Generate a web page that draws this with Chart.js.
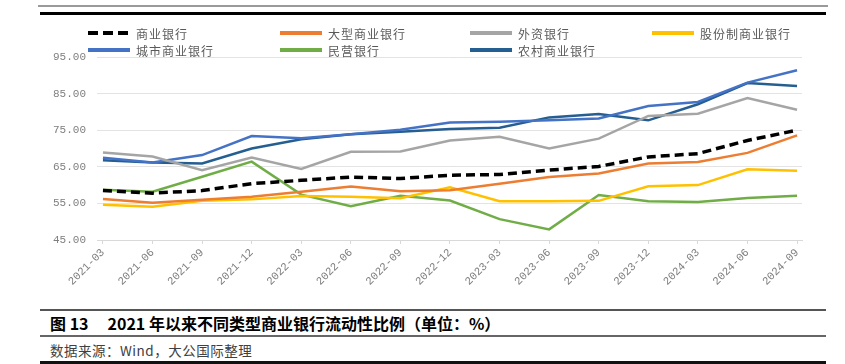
<!DOCTYPE html>
<html>
<head>
<meta charset="utf-8">
<script src="https://cdn.jsdelivr.net/npm/chart.js@4"></script>
<style>
  html, body { margin: 0; padding: 0; background: #fff; }
  body { width: 845px; height: 364px; position: relative; overflow: hidden; font-family: "Noto Sans CJK SC", sans-serif; }
  .rule { position: absolute; left: 40px; width: 786px; }
  #chart-box { position: absolute; left: 0; top: 0; width: 845px; height: 305px; }
  .legend-item { position: absolute; height: 16px; display: flex; align-items: center; font-size: 12px; letter-spacing: 1px; color: #595959; white-space: nowrap; }
  .legend-item .sym { width: 42px; height: 4px; margin-right: 6px; }
  .caption { position: absolute; left: 50px; white-space: nowrap; }
</style>
</head>
<body>
<div class="rule" style="top:5px;left:38px;width:790px;height:2px;background:#9a9a9a"></div>
<div class="rule" style="top:12px;height:3px;background:#000"></div>
<div id="chart-box"><canvas id="ratio-chart"></canvas></div>
<div id="legend"></div>
<div class="rule" style="top:309px;height:2px;background:#555"></div>
<div class="caption" style="top:311px;font-size:16px;font-weight:bold;color:#000">图 13<span style="margin-left:19px">2021 年以来不同类型商业银行流动性比例（单位：%）</span></div>
<div class="rule" style="top:335px;height:2px;background:#666"></div>
<div class="caption" style="top:340px;font-size:13.5px;color:#404040;letter-spacing:0.5px">数据来源：Wind，大公国际整理</div>
<div class="rule" style="top:361px;height:3px;background:#111"></div>

<script>
const quarters = ['2021-03', '2021-06', '2021-09', '2021-12', '2022-03', '2022-06', '2022-09', '2022-12',
                  '2023-03', '2023-06', '2023-09', '2023-12', '2024-03', '2024-06', '2024-09'];

const commercial = [58.5, 57.8, 58.5, 60.4, 61.3, 62.2, 61.8, 62.7, 62.9, 64.1, 65.1, 67.7, 68.6, 72.2, 75.0];
const large      = [56.2, 55.2, 56.0, 56.8, 58.2, 59.6, 58.3, 58.6, 60.4, 62.2, 63.2, 65.9, 66.3, 68.8, 73.6];
const foreign    = [68.9, 67.8, 64.1, 67.5, 64.4, 69.1, 69.2, 72.2, 73.2, 70.0, 72.7, 78.9, 79.5, 83.8, 80.6];
const jointStock = [54.6, 54.1, 55.7, 56.1, 57.0, 56.8, 56.4, 59.4, 55.6, 55.6, 55.7, 59.7, 60.0, 64.3, 63.9];
const city       = [67.5, 66.2, 68.2, 73.4, 72.8, 73.9, 75.1, 77.1, 77.3, 77.7, 78.2, 81.6, 82.7, 88.0, 91.4];
const privateBk  = [58.7, 58.2, 62.3, 66.4, 57.4, 54.2, 57.1, 55.8, 50.7, 47.9, 57.3, 55.6, 55.4, 56.5, 57.1];
const rural      = [66.8, 66.2, 65.9, 70.0, 72.5, 73.9, 74.6, 75.3, 75.7, 78.5, 79.4, 77.7, 82.1, 87.9, 87.1];

const yTicks = [45, 55, 65, 75, 85, 95];

const series = [
  { name: '商业银行',     values: commercial, color: '#000000', dashed: true },
  { name: '大型商业银行', values: large,      color: '#ED7D31' },
  { name: '外资银行',     values: foreign,    color: '#A5A5A5' },
  { name: '股份制商业银行', values: jointStock, color: '#FFC000' },
  { name: '城市商业银行', values: city,       color: '#4472C4' },
  { name: '民营银行',     values: privateBk,  color: '#70AD47' },
  { name: '农村商业银行', values: rural,      color: '#255E91' }
];

// legend laid out as a 4-column grid like the original
const legendCols = [88, 280, 470, 652];
const legendRows = [25, 42];
const legendBox = document.getElementById('legend');
series.forEach((s, i) => {
  const item = document.createElement('div');
  item.className = 'legend-item';
  item.style.left = legendCols[i % 4] + 'px';
  item.style.top = legendRows[Math.floor(i / 4)] + 'px';
  const sym = document.createElement('div');
  sym.className = 'sym';
  sym.style.background = s.dashed
    ? 'repeating-linear-gradient(90deg, #000 0 10px, transparent 10px 15px)'
    : s.color;
  item.appendChild(sym);
  item.appendChild(document.createTextNode(s.name));
  legendBox.appendChild(item);
});

const axisFont = { family: '"Liberation Mono", monospace', size: 11 };

new Chart(document.getElementById('ratio-chart').getContext('2d'), {
  type: 'line',
  data: {
    datasets: series.map(s => ({
      label: s.name,
      data: s.values.map((v, i) => ({ x: i, y: v })),
      borderColor: s.color,
      backgroundColor: s.color,
      borderWidth: s.dashed ? 3.5 : 2.5,
      borderDash: s.dashed ? [9, 5] : [],
      pointRadius: 0,
      tension: 0,
      fill: false
    }))
  },
  options: {
    responsive: true,
    maintainAspectRatio: false,
    animation: false,
    layout: { padding: { left: 0, right: 43, top: 57, bottom: 0 } },
    plugins: { legend: { display: false }, tooltip: { enabled: false } },
    scales: {
      x: {
        type: 'linear',
        min: -0.12,
        max: 14.1,
        afterBuildTicks: scale => { scale.ticks = quarters.map((_, i) => ({ value: i })); },
        afterFit: scale => { scale.height = 65; },
        border: { color: '#d9d9d9' },
        grid: { drawOnChartArea: false, drawTicks: true, tickLength: 4, color: '#d9d9d9' },
        ticks: {
          autoSkip: false,
          maxRotation: 45,
          minRotation: 45,
          padding: 2,
          color: '#7f7f7f',
          font: axisFont,
          callback: v => quarters[v]
        }
      },
      y: {
        min: 45,
        max: 95,
        afterBuildTicks: scale => { scale.ticks = yTicks.map(v => ({ value: v })); },
        afterFit: scale => { scale.width = 97; },
        border: { display: false },
        grid: { color: '#e3e3e3', drawTicks: false, lineWidth: 1 },
        ticks: {
          padding: 11,
          color: '#7f7f7f',
          font: axisFont,
          callback: v => v.toFixed(2)
        }
      }
    }
  }
});
</script>
</body>
</html>
